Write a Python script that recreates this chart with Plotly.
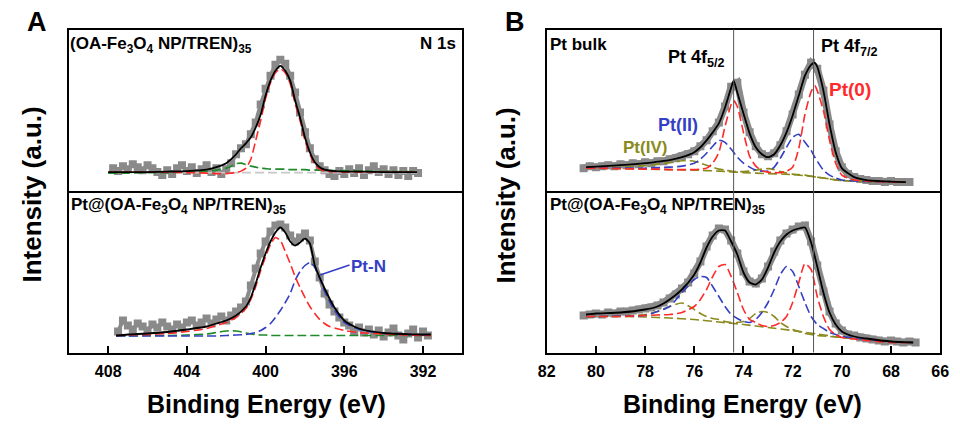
import plotly.graph_objects as go

# ---------------- Panel A (N 1s) ----------------
# top: (OA-Fe3O4 NP/TREN)35
a1_data_x = [407.75, 407.5, 407.25, 407, 406.75, 406.5, 406.25, 406, 405.75, 405.5, 405.25, 405,
             404.75, 404.5, 404.25, 404, 403.75, 403.5, 403.25, 403, 402.75, 402.5, 402.25, 402,
             401.75, 401.5, 401.25, 401, 400.75, 400.5, 400.25, 400, 399.75, 399.5, 399.25, 399,
             398.75, 398.5, 398.25, 398, 397.75, 397.5, 397.25, 397, 396.75, 396.5, 396.25, 396,
             395.75, 395.5, 395.25, 395, 394.75, 394.5, 394.25, 394, 393.75, 393.5, 393.25, 393,
             392.75, 392.5, 392.25]
a1_data_y = [24, 21, 26, 23, 28, 25, 22, 27, 24, 20, 17, 22,
             18, 24, 27, 21, 25, 19, 23, 27, 20, 24, 18, 23,
             29, 38, 44, 48, 58, 70, 88, 104, 117, 128, 133, 129,
             117, 100, 80, 60, 44, 33, 26, 22, 18, 16, 21, 18,
             23, 19, 24, 17, 22, 26, 20, 23, 18, 22, 17, 21,
             16, 21, 19]
a1_fit_x = [408, 407, 406, 405, 404, 403, 402.5, 402, 401.75, 401.5, 401.25, 401, 400.75, 400.5,
            400.25, 400, 399.75, 399.5, 399.25, 399, 398.75, 398.5, 398.25, 398, 397.75, 397.5,
            397.25, 397, 396.5, 396, 395, 394, 393, 392.3]
a1_total = [20, 20, 20, 20.5, 21, 22.5, 25, 29, 33, 38, 44, 49, 55, 65,
            78, 97, 112, 122, 127, 122, 112, 92, 75, 55, 40, 30,
            25, 22.5, 21, 20.5, 20.5, 20, 20, 20]
a1_red = [20, 20, 20, 20, 19.5, 19, 18.5, 18.5, 19, 19.5, 21, 24, 33, 52,
          72, 94, 110, 120, 124, 120, 109, 89, 72, 52, 38, 28,
          23, 21, 20.5, 20, 20, 20, 20, 20]
a1_green = [19, 19, 19.5, 19.5, 20, 21, 22, 24, 26, 28.5, 29, 27.5, 26, 25,
            24, 23.5, 23, 23, 23, 23, 22.5, 22.5, 22.5, 22.5, 22, 22,
            22, 22, 21.5, 21.5, 21, 20.5, 20.5, 20.5]
a1_base_x = [404.5, 392.3]
a1_base_y = [19.5, 19.5]

# bottom: Pt@(OA-Fe3O4 NP/TREN)35
a2_data_x = [407.5, 407.25, 407, 406.75, 406.5, 406.25, 406, 405.75, 405.5, 405.25, 405, 404.75,
             404.5, 404.25, 404, 403.75, 403.5, 403.25, 403, 402.75, 402.5, 402.25, 402, 401.75,
             401.5, 401.25, 401, 400.75, 400.5, 400.25, 400, 399.75, 399.5, 399.25, 399, 398.75,
             398.5, 398.25, 398, 397.75, 397.5, 397.25, 397, 396.75, 396.5, 396.25, 396, 395.75,
             395.5, 395.25, 395, 394.75, 394.5, 394.25, 394, 393.75, 393.5, 393.25, 393, 392.75,
             392.5, 392.25, 392, 391.75]
a2_data_y = [22, 33, 28, 24, 30, 27, 23, 29, 26, 31, 27, 24,
             29, 26, 31, 33, 28, 31, 35, 30, 34, 37, 33, 38,
             42, 46, 52, 68, 85, 100, 112, 122, 128, 129, 126, 118,
             112, 116, 120, 113, 92, 76, 60, 49, 42, 36, 31, 28,
             22, 26, 21, 24, 19, 23, 17, 21, 25, 18, 14, 20,
             24, 16, 22, 18]
a2_fit_x = [407.6, 407, 406, 405, 404, 403, 402.5, 402, 401.5, 401, 400.75, 400.5, 400.25, 400,
            399.75, 399.5, 399.25, 399, 398.75, 398.5, 398.25, 398, 397.75, 397.5, 397.25, 397,
            396.75, 396.5, 396, 395.5, 395, 394, 393, 392, 391.6]
a2_total = [18, 19, 20, 21.5, 24, 27, 30, 33, 38, 47, 56, 70, 86, 100,
            112, 121, 126, 121, 112, 108, 111, 115, 110, 88, 76, 65,
            55, 46, 33, 27, 23.5, 20.5, 19.5, 19, 19]
a2_red = [18, 18.5, 19, 20, 22, 25, 28, 31, 36, 45, 54, 67, 83, 97,
          109, 116, 113, 102, 90, 77, 66, 56, 47, 40, 34, 30,
          27, 25.5, 23, 21.5, 20.5, 19.5, 18.5, 18, 18]
a2_blue = [17.5, 17.5, 17.5, 17.5, 17.5, 17.5, 17.5, 18, 18.5, 19, 20, 21, 23, 26,
           30, 36, 43, 51, 60, 73, 82, 88, 91, 86, 75, 62,
           52, 43, 31, 26, 23, 20, 19, 18.5, 18]
a2_green = [17.5, 17.5, 18, 18, 18.5, 19.5, 21, 22.5, 22.5, 20.5, 19.5, 19, 18.5, 18.5,
            18, 18, 18, 18, 18, 18, 18, 18, 18, 18, 18, 18,
            18, 18, 18, 18, 18, 18, 18, 18, 18]

# ---------------- Panel B (Pt 4f) ----------------
b1_data_x = [80.5, 80.25, 80, 79.75, 79.5, 79.25, 79, 78.75, 78.5, 78.25, 78, 77.75, 77.5, 77.25,
             77, 76.75, 76.5, 76.25, 76, 75.75, 75.5, 75.25, 75, 74.75, 74.5, 74.25, 74, 73.75,
             73.5, 73.25, 73, 72.75, 72.5, 72.25, 72, 71.75, 71.5, 71.25, 71, 70.75, 70.5, 70.25,
             70, 69.75, 69.5, 69.25, 69, 68.75, 68.5, 68.25, 68, 67.75, 67.5, 67.25]
b1_data_y = [24, 26, 25, 26, 27, 26, 28, 27, 29, 28, 30, 29, 31, 31,
             33, 34, 36, 38, 41, 46, 52, 61, 70, 86, 106, 110, 80, 60,
             46, 38, 36, 39, 47, 61, 78, 98, 118, 130, 124, 102, 68, 41,
             25, 18, 15, 13, 12, 11, 11, 10, 11, 10, 10, 10]
b1_fit_x = [80.4, 80, 79, 78, 77.5, 77, 76.5, 76, 75.75, 75.5, 75.25, 75, 74.75, 74.5, 74.4,
            74.25, 74, 73.75, 73.5, 73.25, 73, 72.75, 72.5, 72.25, 72, 71.75, 71.5, 71.25, 71.1,
            71, 70.75, 70.5, 70.25, 70, 69.5, 69, 68, 67.4]
b1_total = [25, 25.5, 27, 29, 30.5, 32, 35, 40, 45, 52, 60, 69, 85, 105, 112,
            100, 79, 59, 45, 38, 35, 38, 47, 60, 77, 97, 117, 128, 130,
            126, 102, 68, 40, 24, 15, 12, 10.5, 10]
b1_red = [24, 24, 23.5, 23, 23, 22.5, 22.5, 22.5, 23, 24, 29, 40, 66, 88, 92,
          86, 60, 36, 26, 21.5, 20, 19.5, 19.5, 21, 25, 44, 78, 101, 107,
          102, 82, 52, 29, 17, 12, 11, 10, 10]
b1_blue = [24, 24, 24, 24, 24.5, 25, 26, 29, 33, 39, 46, 52, 50, 43, 40,
           35, 29, 25, 22, 21, 21, 25, 34, 45, 55, 58, 50, 42, 35,
           31, 22, 17, 14, 12, 11, 10.5, 10, 10]
b1_olive = [24, 24.5, 25, 26.5, 28, 29.5, 31.5, 31, 29, 27, 25, 23, 22, 21, 20.5,
            20.5, 20.5, 21, 22, 23, 23.5, 22.5, 20.5, 19, 18, 17.5, 17, 16, 15.5,
            15, 14, 13, 12, 11.5, 11, 10.5, 10, 10]
b1_base_x = [80.4, 79, 78, 77, 76, 75, 74, 73, 72, 71, 70, 69, 68, 67.4]
b1_base_y = [24, 23.5, 23, 22.5, 22, 21, 19.5, 18.5, 17.5, 15, 11.5, 10.5, 10, 10]

b2_data_x = [80.5, 80.25, 80, 79.75, 79.5, 79.25, 79, 78.75, 78.5, 78.25, 78, 77.75, 77.5, 77.25,
             77, 76.75, 76.5, 76.25, 76, 75.75, 75.5, 75.25, 75, 74.75, 74.5, 74.25, 74, 73.75,
             73.5, 73.25, 73, 72.75, 72.5, 72.25, 72, 71.75, 71.5, 71.25, 71, 70.75, 70.5, 70.25,
             70, 69.75, 69.5, 69.25, 69, 68.75, 68.5, 68.25, 68, 67.75, 67.5, 67.25, 67]
b2_data_y = [38, 39, 40, 39, 41, 40, 42, 42, 43, 44, 45, 46, 48, 51,
             55, 59, 65, 71, 80, 92, 107, 118, 125, 124, 113, 100, 82, 72,
             70, 75, 87, 102, 113, 120, 124, 127, 128, 112, 88, 62, 42, 30,
             23, 19, 18, 16, 15, 14, 13, 12, 13, 12, 11, 12, 11]
b2_fit_x = [80.4, 80, 79, 78, 77.5, 77, 76.5, 76, 75.75, 75.5, 75.25, 75, 74.75, 74.5, 74.25,
            74, 73.75, 73.5, 73.25, 73, 72.75, 72.5, 72.25, 72, 71.75, 71.5, 71.25, 71, 70.75,
            70.5, 70.25, 70, 69.5, 69, 68, 67.1]
b2_total = [39, 40, 41, 44, 47, 54, 64, 79, 91, 106, 117, 123, 123, 112, 99,
            81, 71, 69, 74, 86, 101, 112, 119, 123, 125, 126, 111, 87, 61,
            41, 29, 22, 17, 15, 12, 11]
b2_red = [37, 37, 37, 38, 38.5, 39, 41, 47, 54, 64, 77, 87, 89, 77, 61,
          44, 34, 31, 28, 27, 28, 31, 37, 51, 71, 90, 84, 57, 37,
          24, 19, 16, 14.5, 13, 11, 11]
b2_blue = [37, 37, 37.5, 38, 42, 47, 61, 74, 77, 76, 67, 57, 47, 39, 35,
           32, 31, 34, 41, 51, 64, 79, 87, 82, 67, 51, 37, 29, 25,
           21, 19, 17, 15.5, 14, 12, 11]
b2_olive = [37, 37, 37.5, 39, 42, 47, 50.5, 44, 40, 37, 35, 34, 32, 31, 31,
            32, 35, 40, 42, 41, 37, 31, 27, 24, 22, 20, 19, 18, 17.5,
            17, 16.5, 16, 15, 14, 12, 11]
b2_base_x = [80.4, 79, 78, 77, 76, 75, 74, 73, 72, 71, 70, 69, 68, 67.1]
b2_base_y = [37, 37, 36.5, 35.5, 34, 31.5, 29, 26, 23, 19.5, 16, 14, 12, 11]

a_ticks = [408, 404, 400, 396, 392]
b_ticks = [82, 80, 78, 76, 74, 72, 70, 68, 66]
b_ref_lines = [74.4, 71.15]

# ---------------- styling ----------------
W, H = 960, 425
FONT = "Liberation Sans, Arial, sans-serif"
GREY = "#8a8a8a"
RED = "#ff2a2a"
BLUE = "#3440c4"
GREEN = "#1f8a2a"
OLIVE = "#8a8a1e"
DASH = "9px,4px"
LW = 2


def px(x):
    return x / W


def py(y):
    return 1 - y / H


XA = [px(61), px(462)]
XB = [px(548), px(949)]
# lines are drawn just outside each plot area, so leave room for the shared divider
Y_TOP = [py(191), py(29.5)]
Y_BOT = [py(352.5), py(193)]
TOP_H = 192 - 28.5
BOT_H = 353.5 - 192

fig = go.Figure()


def data_trace(x, y, xa, ya, lw):
    fig.add_trace(go.Scatter(x=x, y=y, xaxis=xa, yaxis=ya, mode="lines+markers",
                             line=dict(color=GREY, width=lw),
                             marker=dict(symbol="square", size=8, color=GREY),
                             hoverinfo="skip"))


def comp(x, y, xa, ya, color, width=1.6, dash=DASH):
    fig.add_trace(go.Scatter(x=x, y=y, xaxis=xa, yaxis=ya, mode="lines",
                             line=dict(color=color, width=width, dash=dash, shape="spline", smoothing=0.6),
                             hoverinfo="skip"))


# Panel A top
data_trace(a1_data_x, a1_data_y, "x", "y", 4)
comp(a1_base_x, a1_base_y, "x", "y", "#c8c8c8")
comp(a1_fit_x, a1_green, "x", "y", GREEN)
comp(a1_fit_x, a1_red, "x", "y", RED)
comp(a1_fit_x, a1_total, "x", "y", "black", 1.8, "solid")

# Panel A bottom
data_trace(a2_data_x, a2_data_y, "x2", "y2", 4)
comp(a2_fit_x, a2_green, "x2", "y2", GREEN)
comp(a2_fit_x, a2_blue, "x2", "y2", BLUE)
comp(a2_fit_x, a2_red, "x2", "y2", RED)
comp(a2_fit_x, a2_total, "x2", "y2", "black", 1.8, "solid")

# Panel B top
data_trace(b1_data_x, b1_data_y, "x3", "y3", 7)
comp(b1_base_x, b1_base_y, "x3", "y3", OLIVE)
comp(b1_fit_x, b1_olive, "x3", "y3", OLIVE)
comp(b1_fit_x, b1_blue, "x3", "y3", BLUE)
comp(b1_fit_x, b1_red, "x3", "y3", RED)
comp(b1_fit_x, b1_total, "x3", "y3", "black", 1.8, "solid")

# Panel B bottom
data_trace(b2_data_x, b2_data_y, "x4", "y4", 7)
comp(b2_base_x, b2_base_y, "x4", "y4", OLIVE)
comp(b2_fit_x, b2_olive, "x4", "y4", OLIVE)
comp(b2_fit_x, b2_blue, "x4", "y4", BLUE)
comp(b2_fit_x, b2_red, "x4", "y4", RED)
comp(b2_fit_x, b2_total, "x4", "y4", "black", 1.8, "solid")

axis_common = dict(showline=True, linecolor="black", linewidth=LW, mirror=True,
                   showgrid=False, zeroline=False, fixedrange=True)
tickfont = dict(family=FONT, size=16, color="black", weight="bold")

fig.update_layout(
    width=W, height=H, margin=dict(l=0, r=0, t=0, b=0),
    paper_bgcolor="white", plot_bgcolor="white", showlegend=False,
    xaxis=dict(domain=XA, anchor="y", range=[410, 390], ticks="", showticklabels=False, **axis_common),
    yaxis=dict(domain=Y_TOP, anchor="x", range=[1, TOP_H], ticks="", showticklabels=False, **axis_common),
    xaxis2=dict(domain=XA, anchor="y2", range=[410, 390], tickmode="array", tickvals=a_ticks,
                ticks="inside", ticklen=7, tickwidth=1.5, tickcolor="black", tickfont=tickfont,
                ticklabelstandoff=3, **axis_common),
    yaxis2=dict(domain=Y_BOT, anchor="x2", range=[1, BOT_H - 1], ticks="", showticklabels=False, **axis_common),
    xaxis3=dict(domain=XB, anchor="y3", range=[82, 66], ticks="", showticklabels=False, **axis_common),
    yaxis3=dict(domain=Y_TOP, anchor="x3", range=[1, TOP_H], ticks="", showticklabels=False, **axis_common),
    xaxis4=dict(domain=XB, anchor="y4", range=[82, 66], tickmode="array", tickvals=b_ticks,
                ticks="inside", ticklen=7, tickwidth=1.5, tickcolor="black", tickfont=tickfont,
                ticklabelstandoff=3, **axis_common),
    yaxis4=dict(domain=Y_BOT, anchor="x4", range=[1, BOT_H - 1], ticks="", showticklabels=False, **axis_common),
)

# reference lines in panel B
for xv in b_ref_lines:
    fig.add_shape(type="line", xref="x4", yref="paper", x0=xv, x1=xv, y0=Y_BOT[0], y1=Y_TOP[1],
                  line=dict(color="#555555", width=1), layer="above")

# Pt-N leader line
fig.add_shape(type="line", xref="paper", yref="paper", x0=px(317), y0=py(275), x1=px(347), y1=py(265),
              line=dict(color=BLUE, width=1.5))


def label(text, x, y, size=17, color="black", xanchor="left", yanchor="middle", angle=0):
    fig.add_annotation(text=text, x=px(x), y=py(y), xref="paper", yref="paper",
                       xanchor=xanchor, yanchor=yanchor, showarrow=False, textangle=angle,
                       font=dict(family=FONT, size=size, color=color, weight="bold"))


SAMPLE = "(OA-Fe<sub>3</sub>O<sub>4</sub> NP/TREN)<sub>35</sub>"
label("A", 29, 22, 27, xanchor="center")
label("B", 516, 22, 27, xanchor="center")
label(SAMPLE, 60, 45)
label("N 1s", 458, 44, xanchor="right")
label("Pt@" + SAMPLE, 61, 206)
label("Pt-N", 346, 266, 17, BLUE)
label("Pt bulk", 549, 45)
label("Pt 4f<sub>5/2</sub>", 670, 58, 18)
label("Pt 4f<sub>7/2</sub>", 825, 48, 18)
label("Pt(0)", 834, 89, 19, RED)
label("Pt(II)", 659, 125, 18, BLUE)
label("Pt(IV)", 624, 147, 17, OLIVE)
label("Pt@" + SAMPLE, 549, 206)
label("Intensity (a.u.)", 23, 195, 26, xanchor="center", angle=-90)
label("Intensity (a.u.)", 507, 195, 26, xanchor="center", angle=-90)
label("Binding Energy (eV)", 262, 404, 25, xanchor="center")
label("Binding Energy (eV)", 748, 404, 25, xanchor="center")

fig.write_html("out.html")
